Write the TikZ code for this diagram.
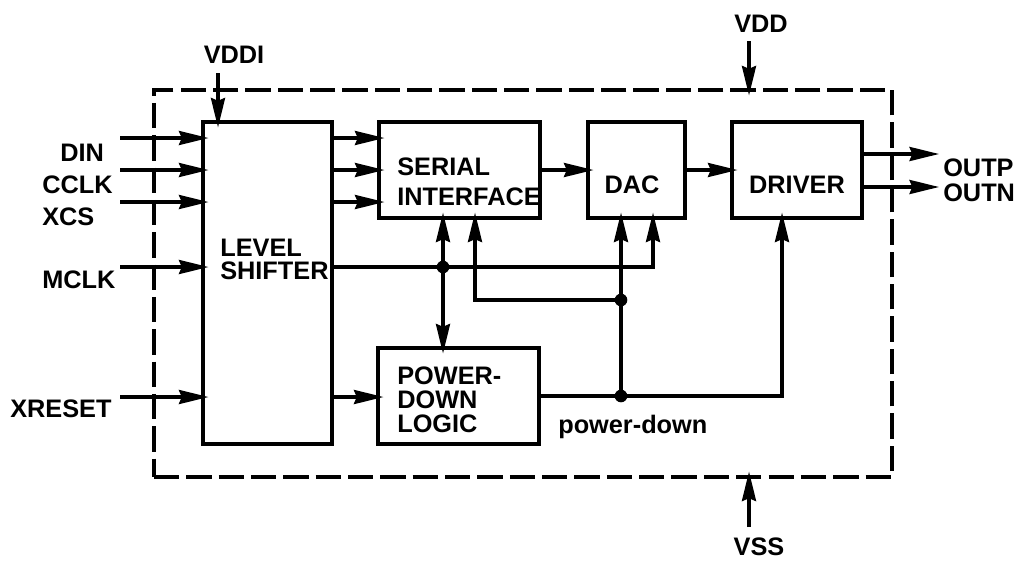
\documentclass[tikz,border=0pt]{standalone}
\usepackage{fontspec}
\setmainfont{Liberation Sans}
\usepackage{tikz}
\usetikzlibrary{arrows.meta,calc,positioning,fit}

\begin{document}
\begin{tikzpicture}[x=0.025cm,y=-0.025cm,line join=miter,
  blk/.style={draw,line width=2.2pt,inner sep=0pt},
  frame/.style={draw,line width=2.2pt,inner sep=0pt,dash pattern=on 18pt off 5pt},
  lbl/.style={font=\fontsize{18}{21}\selectfont\bfseries,inner sep=0pt},
  wire/.style={line width=2.2pt},
  sig/.style={wire,-{Stealth[length=21pt,width=10pt,inset=2pt]},shorten >=-5pt},
  bisig/.style={wire,{Stealth[length=21pt,width=10pt,inset=2pt]}-{Stealth[length=21pt,width=10pt,inset=2pt]},
    shorten >=-5pt,shorten <=-5pt},
  dot/.style={circle,fill,inner sep=0pt,minimum size=9pt}]
  \useasboundingbox (0,0) rectangle (1018,560);
  % Chip outline and blocks.
  \node[frame,fit={(154,90)(892,477)}] (chip) {};
  \node[blk,fit={(203,122)(332,444)}] (ls) {};
  \node[blk,fit={(379,122)(540,218)}] (si) {};
  \node[blk,fit={(588,122)(685,218)}] (dac) {};
  \node[blk,fit={(732,122)(862,218)}] (drv) {};
  \node[blk,fit={(378,348)(539,444)}] (pdl) {};
  \node[lbl,font=\fontsize{18}{16.3}\selectfont\bfseries,align=left,anchor=north west] (tls) at (220,239) {LEVEL\\SHIFTER};
  \node[lbl,font=\fontsize{18}{21.3}\selectfont\bfseries,align=left,anchor=north west] (tsi) at (397,158) {SERIAL\\INTERFACE};
  \node[lbl,anchor=base] (tdac) at (632,193) {DAC};
  \node[lbl,anchor=base] (tdrv) at (797,193) {DRIVER};
  \node[lbl,font=\fontsize{18}{17}\selectfont\bfseries,align=left,anchor=north west] (tpdl) at (397,367) {POWER-\\DOWN\\LOGIC};
  \node[lbl,anchor=base west] (tpd) at (558,433) {power-down};

  % Pins.
  \node[lbl,anchor=base west] (ldin) at (60,161) {DIN};
  \node[lbl,anchor=base west] (lcclk) at (42,193) {CCLK};
  \node[lbl,anchor=base west] (lxcs) at (42,225) {XCS};
  \node[lbl,anchor=base west] (lmclk) at (42,288) {MCLK};
  \node[lbl,anchor=base west] (lxrst) at (10,417) {XRESET};
  \node[lbl,anchor=base] (lvddi) at (234,63) {VDDI};
  \node[lbl,anchor=base] (lvdd) at (761,32) {VDD};
  \node[lbl,anchor=base] (lvss) at (759,555) {VSS};
  \node[lbl,anchor=base west] (loutp) at (943,176) {OUTP};
  \node[lbl,anchor=base west] (loutn) at (943,201) {OUTN};
  \coordinate (din) at (120,138);
  \coordinate (cclk) at (120,170);
  \coordinate (xcs) at (120,202);
  \coordinate (mclk) at (120,267);
  \coordinate (xrst) at (120,397);
  \coordinate (vddi) at (218,73);
  \coordinate (vdd) at (749,41);
  \coordinate (vss) at (749,527);
  \coordinate (outp) at (932,154);
  \coordinate (outn) at (932,187);
  \foreach \p in {din,cclk,xcs,mclk,xrst}
    \draw[sig] (\p) -- (\p -| ls.west);
  \foreach \p in {din,cclk,xcs}
    \draw[sig] (\p -| ls.east) -- (\p -| si.west);
  \draw[sig] (vddi) -- (vddi |- ls.north);
  \draw[sig] (vdd) -- (vdd |- chip.north);
  \draw[sig] (vss) -- (vss |- chip.south);
  \draw[sig] (outp -| drv.east) -- (outp);
  \draw[sig] (outn -| drv.east) -- (outn);

  % Internal routing.
  \coordinate (xa) at (443,0);
  \coordinate (xb) at (475,0);
  \coordinate (xc) at (621,0);
  \coordinate (xd) at (653,0);
  \coordinate (xe) at (782,0);
  \coordinate (yb) at (0,300);
  \draw[sig] (si.east) -- (dac.west);
  \draw[sig] (dac.east) -- (drv.west);
  \draw[sig] (xrst -| ls.east) -- (xrst -| pdl.west);
  \draw[sig] (mclk -| ls.east) -- (mclk -| xd) -- (xd |- dac.south);
  \draw[bisig] (xa |- si.south) -- (xa |- pdl.north);
  \draw[sig] (pdl.east) -- (xe |- pdl.east) -- (xe |- drv.south);
  \draw[sig] (xc |- pdl.east) -- (xc |- dac.south);
  \draw[sig] (xc |- yb) -- (xb |- yb) -- (xb |- si.south);
  \node[dot] (j1) at (xa |- mclk) {};
  \node[dot] (j2) at (xc |- yb) {};
  \node[dot] (j3) at (xc |- pdl.east) {};
\end{tikzpicture}
\end{document}
